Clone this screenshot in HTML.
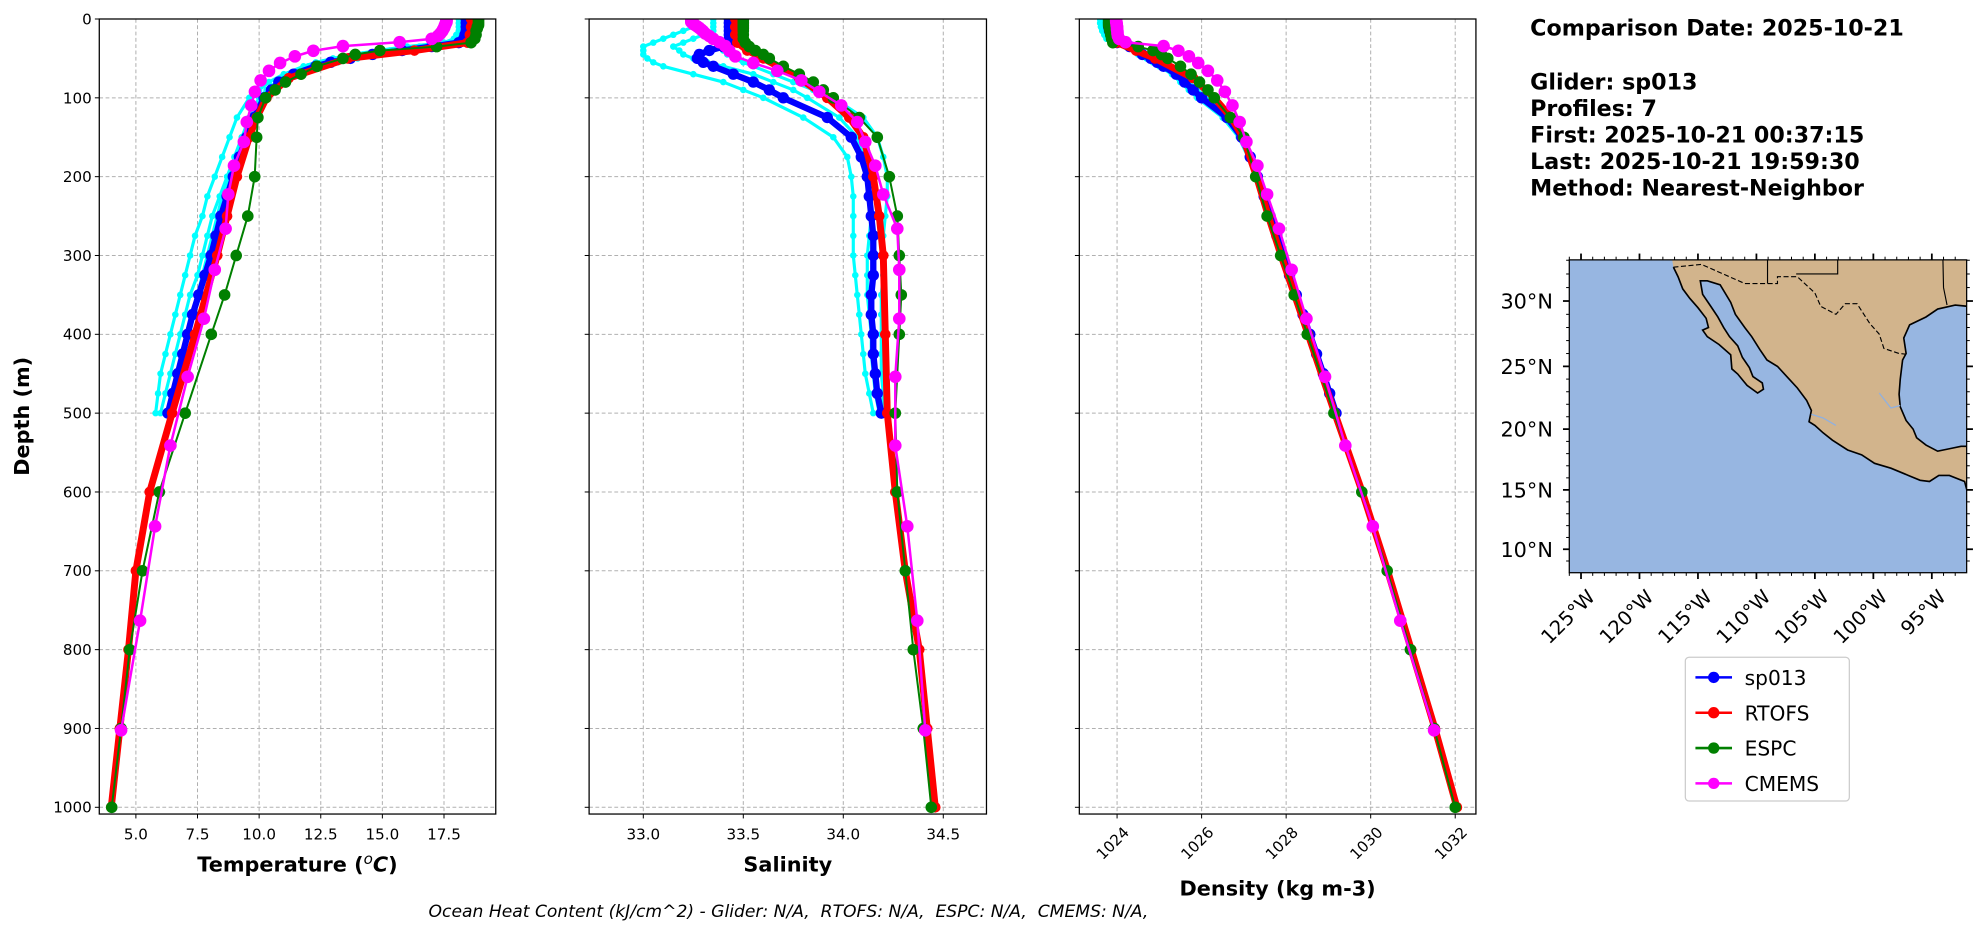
<!DOCTYPE html>
<html><head><meta charset="utf-8">
<style>
html,body{margin:0;padding:0;background:#fff;}
svg{display:block;}
text{font-family:"DejaVu Sans","Liberation Sans",sans-serif;fill:#000;}
</style></head>
<body>
<svg id="fig" xmlns="http://www.w3.org/2000/svg" width="1978" height="934" viewBox="0 0 1568 740.4" preserveAspectRatio="none">
<g id="panels"></g>
<g id="info" font-weight="bold" font-size="17.6">
<text x="1213" y="28">Comparison Date: 2025-10-21</text>
<text x="1213" y="71">Glider: sp013</text>
<text x="1213" y="92">Profiles: 7</text>
<text x="1213" y="113">First: 2025-10-21 00:37:15</text>
<text x="1213" y="134">Last: 2025-10-21 19:59:30</text>
<text x="1213" y="155">Method: Nearest-Neighbor</text>
</g>
<g id="map"></g>
<g id="legend"></g>
<text x="625" y="727" text-anchor="middle" font-size="13.6" font-style="italic" style="white-space:pre">Ocean Heat Content (kJ/cm^2) - Glider: N/A,  RTOFS: N/A,  ESPC: N/A,  CMEMS: N/A,</text>
</svg>
<script>
// ---- data ----
const gliderDepth=[0,5,10,15,20,25,30,35,40,45,50,55,60,70,80,90,100,125,150,175,200,225,250,275,300,325,350,375,400,425,450,475,500];
const gliderTemp=[18.4,18.4,18.4,18.4,18.35,18.3,18.1,17.0,15.8,14.6,13.7,12.9,12.3,11.4,10.8,10.5,10.2,9.8,9.5,9.2,8.95,8.7,8.45,8.25,8.05,7.8,7.55,7.3,7.1,6.9,6.7,6.5,6.3];
const gliderSal=[33.43,33.43,33.43,33.43,33.43,33.43,33.44,33.4,33.33,33.28,33.27,33.3,33.35,33.45,33.55,33.63,33.7,33.92,34.04,34.09,34.12,34.13,34.14,34.15,34.15,34.15,34.14,34.14,34.15,34.15,34.16,34.17,34.19];
const gliderDen=[1023.8,1023.8,1023.8,1023.82,1023.85,1023.9,1024.0,1024.3,1024.5,1024.6,1024.8,1024.95,1025.1,1025.4,1025.6,1025.8,1026.0,1026.6,1026.95,1027.15,1027.32,1027.48,1027.62,1027.78,1027.92,1028.08,1028.24,1028.4,1028.56,1028.72,1028.88,1029.03,1029.18];
const profTemp1=[18.1,18.1,18.1,18.1,18.0,17.9,17.5,16.0,14.8,13.8,13.0,12.3,11.8,11.0,10.4,10.0,9.6,9.1,8.8,8.5,8.2,7.9,7.7,7.4,7.2,7.0,6.8,6.6,6.4,6.2,6.0,5.9,5.8];
const profTemp2=[18.6,18.6,18.6,18.6,18.5,18.4,18.2,17.4,16.2,15.0,14.0,13.2,12.5,11.6,11.0,10.6,10.3,9.8,9.3,9.0,8.7,8.4,8.1,7.9,7.7,7.5,7.2,7.0,6.8,6.6,6.4,6.2,6.0];
const profTemp3=[18.3,18.3,18.3,18.3,18.2,18.1,17.8,16.5,15.3,14.2,13.3,12.6,12.0,11.2,10.7,10.3,10.0,9.6,9.3,9.0,8.8,8.5,8.3,8.1,7.9,7.7,7.5,7.3,7.1,6.9,6.7,6.5,6.3];
const profSal1=[33.25,33.25,33.25,33.2,33.15,33.1,33.05,33.0,33.0,33.0,33.02,33.05,33.1,33.25,33.4,33.5,33.6,33.8,33.95,34.02,34.04,34.05,34.05,34.05,34.05,34.06,34.07,34.08,34.09,34.1,34.11,34.13,34.15];
const profSal2=[33.35,33.35,33.35,33.35,33.3,33.25,33.2,33.15,33.18,33.2,33.25,33.32,33.4,33.55,33.65,33.75,33.82,33.98,34.07,34.1,34.12,34.13,34.14,34.13,34.12,34.12,34.12,34.13,34.14,34.14,34.15,34.16,34.18];
const profSal3=[33.45,33.45,33.45,33.45,33.45,33.45,33.45,33.42,33.4,33.42,33.45,33.5,33.55,33.65,33.75,33.85,33.95,34.1,34.17,34.2,34.22,34.22,34.21,34.2,34.2,34.2,34.19,34.19,34.19,34.19,34.19,34.2,34.2];
const profDen1=[1023.6,1023.6,1023.62,1023.65,1023.7,1023.75,1023.85,1024.2,1024.4,1024.5,1024.7,1024.85,1025.0,1025.3,1025.5,1025.7,1025.9,1026.5,1026.88,1027.1,1027.28,1027.44,1027.6,1027.75,1027.9,1028.05,1028.2,1028.36,1028.52,1028.68,1028.84,1029.0,1029.15];
const profDen2=[1023.75,1023.75,1023.75,1023.77,1023.8,1023.85,1023.95,1024.3,1024.55,1024.7,1024.9,1025.05,1025.2,1025.45,1025.7,1025.9,1026.1,1026.65,1026.97,1027.17,1027.35,1027.5,1027.65,1027.8,1027.95,1028.1,1028.26,1028.42,1028.58,1028.74,1028.9,1029.05,1029.2];

const rtofsDepth=[0,10,20,30,40,50,75,100,125,150,200,250,300,400,500,600,700,800,900,1000];
const rtofsTemp=[18.6,18.6,18.55,18.45,16.3,13.6,11.2,10.3,9.9,9.6,9.1,8.7,8.3,7.4,6.47,5.56,5.0,4.7,4.35,4.0];
const rtofsSal=[33.46,33.46,33.46,33.47,33.52,33.6,33.78,33.92,34.03,34.1,34.15,34.18,34.2,34.21,34.22,34.26,34.31,34.38,34.42,34.46];
const rtofsDen=[1023.85,1023.85,1023.87,1024.0,1024.45,1024.9,1025.8,1026.3,1026.7,1026.98,1027.3,1027.58,1027.88,1028.52,1029.15,1029.8,1030.4,1030.96,1031.52,1032.04];

const espcDepth=[0,2,4,6,8,10,12,15,20,25,30,35,40,45,50,60,70,80,90,100,125,150,200,250,300,350,400,500,600,700,800,900,1000];
const espcTemp=[18.9,18.9,18.9,18.9,18.9,18.85,18.85,18.8,18.8,18.75,18.6,17.2,14.9,13.9,13.4,12.35,11.7,11.07,10.65,10.26,9.95,9.9,9.82,9.54,9.07,8.6,8.06,7.0,5.95,5.27,4.75,4.4,4.02];
const espcSal=[33.5,33.5,33.5,33.5,33.5,33.5,33.5,33.5,33.5,33.5,33.51,33.53,33.56,33.6,33.63,33.7,33.78,33.85,33.9,33.95,34.08,34.17,34.23,34.27,34.28,34.29,34.28,34.26,34.27,34.31,34.35,34.4,34.44];
const espcDen=[1023.8,1023.8,1023.8,1023.8,1023.8,1023.81,1023.82,1023.83,1023.85,1023.87,1023.9,1024.5,1024.85,1025.05,1025.2,1025.5,1025.75,1025.95,1026.15,1026.3,1026.68,1027.0,1027.28,1027.55,1027.87,1028.19,1028.5,1029.13,1029.79,1030.39,1030.94,1031.5,1032.0];

const cmemsDepth=[0.5,1.5,2.6,3.8,5.1,6.4,7.9,9.6,11.4,13.5,15.8,18.5,21.6,25.2,29.4,34.4,40.3,47.4,55.8,65.8,77.9,92.3,109.7,130.7,155.9,186.1,222.5,266.0,318.1,380.2,453.9,541.1,643.6,763.3,902.3];
const cmemsTemp=[17.6,17.6,17.6,17.6,17.58,17.56,17.54,17.52,17.5,17.46,17.42,17.35,17.25,17.0,15.7,13.4,12.2,11.45,10.85,10.4,10.06,9.83,9.68,9.5,9.38,8.98,8.75,8.64,8.2,7.76,7.1,6.4,5.78,5.17,4.4];
const cmemsSal=[33.24,33.24,33.24,33.24,33.25,33.25,33.26,33.27,33.28,33.29,33.3,33.31,33.33,33.35,33.38,33.41,33.43,33.46,33.55,33.67,33.79,33.88,33.99,34.07,34.11,34.16,34.2,34.27,34.28,34.28,34.26,34.26,34.32,34.37,34.41];
const cmemsDen=[1023.98,1023.98,1023.98,1023.98,1023.99,1023.99,1023.99,1024.0,1024.0,1024.0,1024.01,1024.01,1024.02,1024.05,1024.2,1025.1,1025.45,1025.7,1025.92,1026.15,1026.37,1026.55,1026.73,1026.9,1027.06,1027.32,1027.55,1027.83,1028.13,1028.48,1028.92,1029.4,1030.05,1030.7,1031.5];

const depthTicks=[0,100,200,300,400,500,600,700,800,900,1000];
const tempTicks=[5.0,7.5,10.0,12.5,15.0,17.5];
const tempTickLabels=["5.0","7.5","10.0","12.5","15.0","17.5"];
const salTicks=[33.0,33.5,34.0,34.5];
const salTickLabels=["33.0","33.5","34.0","34.5"];
const denTicks=[1024,1026,1028,1030,1032];
const denTickLabels=["1024","1026","1028","1030","1032"];

const seriesNames=["sp013","RTOFS","ESPC","CMEMS"];
const seriesColors=["#0000ff","#ff0000","#008000","#ff00ff"];

// ---- helpers ----
const NS="http://www.w3.org/2000/svg";
function mk(tag,parent,attrs){const e=document.createElementNS(NS,tag);for(const k in attrs)e.setAttribute(k,attrs[k]);parent.appendChild(e);return e;}
const Y0=15.06, Y1=645.3;
function yOf(d){return Y0+d*0.6249;}

const panels=[
 {name:"temperature",x0:78.7,x1:393,vmin:3.515,vmax:19.6,ticks:tempTicks,labels:tempTickLabels,title:"Temperature (",rot:false,ty:691,
  glider:gliderTemp,profs:[profTemp1,profTemp2,profTemp3],r:rtofsTemp,e:espcTemp,c:cmemsTemp},
 {name:"salinity",x0:467,x1:782,vmin:32.729,vmax:34.716,ticks:salTicks,labels:salTickLabels,title:"Salinity",rot:false,ty:691,
  glider:gliderSal,profs:[profSal1,profSal2,profSal3],r:rtofsSal,e:espcSal,c:cmemsSal},
 {name:"density",x0:855.6,x1:1170,vmin:1023.107,vmax:1032.49,ticks:denTicks,labels:denTickLabels,title:"Density (kg m-3)",rot:true,ty:710,
  glider:gliderDen,profs:[profDen1,profDen2,profDen1],r:rtofsDen,e:espcDen,c:cmemsDen}
];
const root=document.getElementById('panels');
panels.forEach((p,pi)=>{
 const g=mk('g',root,{});
 
 
 const xs=v=>p.x0+(v-p.vmin)/(p.vmax-p.vmin)*(p.x1-p.x0);
 const clipId='clip'+pi;
 const cp=mk('clipPath',g,{id:clipId});mk('rect',cp,{x:p.x0,y:Y0,width:p.x1-p.x0,height:Y1-Y0});
 p.ticks.forEach(t=>{const l=mk('line',g,{x1:xs(t),x2:xs(t),y1:Y0,y2:Y1,stroke:'#b0b0b0','stroke-width':0.8,'stroke-dasharray':'3,2'});
  });
 depthTicks.forEach(d=>{const l=mk('line',g,{x1:p.x0,x2:p.x1,y1:yOf(d),y2:yOf(d),stroke:'#b0b0b0','stroke-width':0.8,'stroke-dasharray':'3,2'});
  });
 const dg=mk('g',g,{'clip-path':'url(#'+clipId+')'});
 function line(depths,vals,color,w,r,name){
  const s=mk('g',dg,{});
  
  
  const pts=depths.map((d,i)=>xs(vals[i]).toFixed(2)+','+yOf(d).toFixed(2)).join(' ');
  mk('polyline',s,{points:pts,fill:'none',stroke:color,'stroke-width':w,'stroke-linejoin':'round'});
  depths.forEach((d,i)=>{const c=mk('circle',s,{cx:xs(vals[i]),cy:yOf(d),r:r,fill:color});
   });
 }
 p.profs.forEach((pr,k)=>line(gliderDepth,pr,'#00ffff',2.5,2.6,'glider-profile-'+(k+1)));
 line(gliderDepth,p.glider,'#0000ff',5,4.5,'sp013-series');
 line(rtofsDepth,p.r,'#ff0000',5.5,4.2,'rtofs-series');
 line(espcDepth,p.e,'#008000',1.6,4.6,'espc-series');
 line(cmemsDepth,p.c,'#ff00ff',2,5,'cmems-series');
 const fr=mk('rect',g,{x:p.x0,y:Y0,width:p.x1-p.x0,height:Y1-Y0,fill:'none',stroke:'#000','stroke-width':1});
 
 p.ticks.forEach((t,i)=>{mk('line',g,{x1:xs(t),x2:xs(t),y1:Y1,y2:Y1+3.5,stroke:'#000','stroke-width':0.8});
  let tx;
  if(p.rot){tx=mk('text',g,{x:xs(t)+4,y:Y1+9,'font-size':12,'text-anchor':'end',transform:'rotate(-45 '+(xs(t)+4)+' '+(Y1+9)+')','dominant-baseline':'hanging'});}
  else{tx=mk('text',g,{x:xs(t),y:Y1+20,'font-size':12,'text-anchor':'middle'});}
  tx.textContent=p.labels[i];
  });
 depthTicks.forEach(d=>{mk('line',g,{x1:p.x0-3.5,x2:p.x0,y1:yOf(d),y2:yOf(d),stroke:'#000','stroke-width':0.8});
  if(pi===0){const tx=mk('text',g,{x:p.x0-6,y:yOf(d)+4.3,'font-size':12,'text-anchor':'end'});tx.textContent=String(d);
   }});
 const cx=(p.x0+p.x1)/2;
 const tt=mk('text',g,{x:cx,y:p.ty,'font-size':16.5,'font-weight':'bold','text-anchor':'middle'});
 
 if(pi===0){tt.textContent='Temperature (';const a=mk('tspan',tt,{'font-style':'italic','font-weight':'normal','font-size':12,dy:-6});a.textContent='o';
  const b=mk('tspan',tt,{'font-style':'italic',dy:6});b.textContent='C';const c2=mk('tspan',tt,{});c2.textContent=')';}
 else tt.textContent=p.title;
});
const yl=mk('text',root,{x:0,y:0,'font-size':16.5,'font-weight':'bold','text-anchor':'middle',transform:'translate(23 330) rotate(-90)'});
yl.textContent='Depth (m)';


// ---- map ----
const coastLon=[-117.1,-116.7,-116.3,-115.7,-115.0,-114.3,-114.1,-114.6,-114.2,-113.2,-112.2,-112.1,-111.6,-110.8,-109.9,-109.4,-109.5,-110.3,-110.6,-111.2,-111.6,-112.3,-112.8,-113.3,-113.9,-114.6,-114.8,-114.2,-113.1,-112.2,-111.8,-111.0,-110.4,-109.7,-109.1,-108.2,-107.4,-106.5,-105.7,-105.3,-105.5,-105.0,-104.3,-103.5,-102.2,-101.0,-99.9,-98.5,-97.0,-96.0,-95.2,-94.4,-93.5,-92.2,-91.9];
const coastLat=[32.5,31.8,30.9,30.2,29.5,28.7,28.0,27.8,27.3,26.7,25.9,24.8,24.4,23.5,22.9,23.2,23.7,24.2,24.9,25.7,26.6,27.3,28.0,28.8,29.6,30.5,31.5,31.5,31.2,29.9,29.0,28.0,27.3,26.3,25.5,25.0,24.2,23.3,22.3,21.5,20.6,20.3,19.7,19.1,18.3,17.9,17.2,16.8,16.2,15.8,15.7,16.2,16.2,15.7,14.6];
const gulfLon=[-91.9,-92.5,-93.5,-94.5,-95.5,-96.3,-96.6,-97.2,-97.7,-97.8,-97.7,-97.5,-97.2,-97.4,-96.9,-95.5,-94.5,-93.0,-91.9];
const gulfLat=[18.6,18.6,18.4,18.2,18.7,19.3,20.0,20.7,21.8,22.8,24.0,25.5,26.0,27.2,28.2,28.8,29.4,29.7,29.6];
const borderLon=[-117.1,-114.7,-111.0,-108.2,-108.2,-106.5,-105.0,-104.5,-103.2,-102.4,-101.4,-100.3,-99.5,-99.1,-97.8,-97.2];
const borderLat=[32.5,32.7,31.3,31.3,31.8,31.8,30.6,29.6,29.0,29.8,29.8,28.3,27.5,26.4,26.0,25.95];
const latTicks=[30,25,20,15,10];
const lonTicks=[-125,-120,-115,-110,-105,-100,-95];
const M={x0:1244,x1:1559,y0:206,y1:454};
const mx=lon=>1253.3+(lon+125)*9.27;
const merc=lat=>Math.log(Math.tan(Math.PI/4+lat*Math.PI/360));
const my=lat=>435.4-526.3*(merc(lat)-merc(10));
const mg=document.getElementById('map');


const mcp=mk('clipPath',mg,{id:'mapclip'});mk('rect',mcp,{x:M.x0,y:M.y0,width:M.x1-M.x0,height:M.y1-M.y0});
const mapIn=mk('g',mg,{'clip-path':'url(#mapclip)'});
const ocean=mk('rect',mapIn,{x:M.x0,y:M.y0,width:M.x1-M.x0,height:M.y1-M.y0,fill:'#97b6e1'});

let pts=coastLon.map((l,i)=>mx(l)+','+my(coastLat[i]));
pts=pts.concat(gulfLon.map((l,i)=>mx(l)+','+my(gulfLat[i])));
pts.push(mx(-91)+','+my(29.6),mx(-91)+','+my(34),mx(-117.4)+','+my(34));
const land=mk('polygon',mapIn,{points:pts.join(' '),fill:'#d2b48c',stroke:'none'});

const cl=mk('polyline',mapIn,{points:coastLon.map((l,i)=>mx(l)+','+my(coastLat[i])).join(' '),fill:'none',stroke:'#000','stroke-width':1.3});

const gl=mk('polyline',mapIn,{points:gulfLon.map((l,i)=>mx(l)+','+my(gulfLat[i])).join(' '),fill:'none',stroke:'#000','stroke-width':1.3});

const bd=mk('polyline',mapIn,{points:borderLon.map((l,i)=>mx(l)+','+my(borderLat[i])).join(' '),fill:'none',stroke:'#000','stroke-width':0.9,'stroke-dasharray':'4,2'});

mk('polyline',mapIn,{points:[mx(-109.05)+','+my(34),mx(-109.05)+','+my(31.3)].join(' '),fill:'none',stroke:'#000','stroke-width':0.9});
mk('polyline',mapIn,{points:[mx(-106.6)+','+my(32),mx(-103.05)+','+my(32),mx(-103.05)+','+my(34)].join(' '),fill:'none',stroke:'#000','stroke-width':0.9});
mk('polyline',mapIn,{points:[mx(-94.05)+','+my(34),mx(-94.05)+','+my(33.0),mx(-94.0)+','+my(31.0),mx(-93.7)+','+my(29.7)].join(' '),fill:'none',stroke:'#000','stroke-width':0.9});
mk('polyline',mapIn,{points:[mx(-99.5)+','+my(22.9),mx(-98.5)+','+my(21.7),mx(-97.7)+','+my(21.9)].join(' '),fill:'none',stroke:'#8fb0e0','stroke-width':1});
mk('polyline',mapIn,{points:[mx(-105.3)+','+my(21.2),mx(-104.3)+','+my(20.9),mx(-103.2)+','+my(20.3)].join(' '),fill:'none',stroke:'#8fb0e0','stroke-width':1});
const mfr=mk('rect',mg,{x:M.x0,y:M.y0,width:M.x1-M.x0,height:M.y1-M.y0,fill:'none',stroke:'#000','stroke-width':1});

for(let lat=9;lat<=33;lat++){const y=my(lat);if(y<M.y0||y>M.y1)continue;const maj=lat%5===0;
 mk('line',mg,{x1:M.x0-(maj?5:2.5),x2:M.x0,y1:y,y2:y,stroke:'#000','stroke-width':maj?1.4:0.8});
 mk('line',mg,{x1:M.x1,x2:M.x1+(maj?5:2.5),y1:y,y2:y,stroke:'#000','stroke-width':maj?1.4:0.8});}
for(let lon=-126;lon<=-92;lon++){const x=mx(lon);if(x<M.x0||x>M.x1)continue;const maj=lon%5===0;
 mk('line',mg,{x1:x,x2:x,y1:M.y1,y2:M.y1+(maj?5:2.5),stroke:'#000','stroke-width':maj?1.4:0.8});
 mk('line',mg,{x1:x,x2:x,y1:M.y0-(maj?5:2.5),y2:M.y0,stroke:'#000','stroke-width':maj?1.4:0.8});}
latTicks.forEach(l=>{const t=mk('text',mg,{x:1231,y:my(l)+6,'font-size':16.5,'text-anchor':'end'});t.textContent=l+'°N';
 });
lonTicks.forEach(l=>{const x=mx(l)+4,y=M.y1+12;const t=mk('text',mg,{x:x,y:y,'font-size':15.5,'text-anchor':'end',transform:'rotate(-45 '+x+' '+y+')','dominant-baseline':'hanging'});
 t.textContent=(-l)+'°W';});

// ---- legend ----
const lg=document.getElementById('legend');
mk('rect',lg,{x:1336,y:521,width:130,height:114,rx:3,fill:'#fff',stroke:'#cccccc','stroke-width':1});
seriesNames.forEach((n,i)=>{const y=537+i*28;
 const e=mk('g',lg,{});
 
 
 mk('line',e,{x1:1344,x2:1373,y1:y,y2:y,stroke:seriesColors[i],'stroke-width':2});
 mk('circle',e,{cx:1358.5,cy:y,r:4.5,fill:seriesColors[i]});
 const t=mk('text',e,{x:1383,y:y+6,'font-size':16});t.textContent=n;});
</script>
</body></html>
